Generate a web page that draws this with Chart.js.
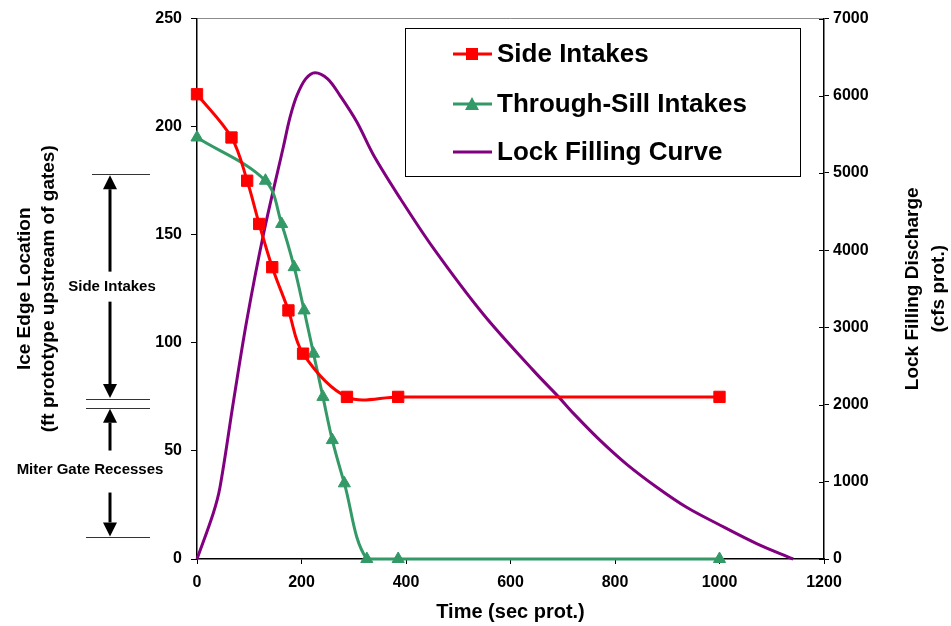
<!DOCTYPE html>
<html>
<head>
<meta charset="utf-8">
<title>Ice Edge Location vs Time</title>
<script src="https://cdn.jsdelivr.net/npm/chart.js@4.4.0/dist/chart.umd.min.js"></script>
<style>
    html, body { margin: 0; padding: 0; background: #fff; }
    canvas { display: block; }
</style>
</head>
<body>
<canvas id="iceChart" width="951" height="626"></canvas>
<script>
// === DATA ===
const sideTime = [0, 66, 96, 119, 144, 175, 203, 287, 385, 1000];
const sideEdge = [215, 195, 175, 155, 135, 115, 95, 75, 75, 75];

const sillTime = [0, 131, 162, 186, 205, 223, 241, 259, 282, 325, 385, 1000];
const sillEdge = [195, 175, 155, 135, 115, 95, 75, 55, 35, 0, 0, 0];

const fillTime = [0, 31, 44, 70, 95, 127, 165, 178, 191, 208, 226, 250, 274, 306, 338, 389, 452, 548, 644, 692, 720, 771, 822, 880, 937, 995, 1071, 1141];
const fillFlow = [0, 590, 930, 2050, 3080, 4200, 5330, 5720, 6000, 6220, 6300, 6220, 6000, 5660, 5230, 4670, 4030, 3170, 2440, 2100, 1890, 1540, 1230, 930, 670, 460, 200, 0];

const seriesNames = ['Side Intakes', 'Through-Sill Intakes', 'Lock Filling Curve'];

// bracket marks on the left, in ft (left axis units)
const bracketEdges = [178, 74, 70, 10];
const bracketLabels = ['Side Intakes', 'Miter Gate Recesses'];

const FONT = '"Liberation Sans", Arial, sans-serif';
const RED = '#FF0000';
const GREEN = '#339966';
const PURPLE = '#800080';

Chart.defaults.font.family = FONT;
Chart.defaults.color = '#000';

function toPoints(xs, ys) {
    return xs.map((x, i) => ({ x: x, y: ys[i] }));
}

// === PLUGINS ===
function drawMarker(ctx, style, x, y, color) {
    ctx.fillStyle = color;
    ctx.beginPath();
    if (style === 'rect') {
        ctx.rect(x - 6, y - 6, 12, 12);
    } else if (style === 'triangle') {
        ctx.moveTo(x, y - 7);
        ctx.lineTo(x + 7, y + 6);
        ctx.lineTo(x - 7, y + 6);
        ctx.closePath();
    }
    ctx.fill();
}

const legendBox = {
    id: 'legendBox',
    afterDatasetsDraw(chart) {
        const ctx = chart.ctx;
        const left = 405, top = 28, right = 800, bottom = 176;
        ctx.save();
        ctx.fillStyle = '#fff';
        ctx.fillRect(left, top, right - left, bottom - top);
        ctx.strokeStyle = '#000';
        ctx.lineWidth = 1;
        ctx.strokeRect(left + 0.5, top + 0.5, right - left, bottom - top);

        const rows = [54, 104, 152];
        chart.data.datasets.forEach((ds, i) => {
            const y = rows[i];
            ctx.strokeStyle = ds.borderColor;
            ctx.lineWidth = 3;
            ctx.beginPath();
            ctx.moveTo(453, y);
            ctx.lineTo(492, y);
            ctx.stroke();
            if (ds.pointStyle && ds.pointRadius > 0) {
                drawMarker(ctx, ds.pointStyle, 472, y, ds.borderColor);
            }
            ctx.fillStyle = '#000';
            ctx.font = 'bold 26px ' + FONT;
            ctx.textAlign = 'left';
            ctx.textBaseline = 'middle';
            ctx.fillText(ds.label, 497, y + 1);
        });
        ctx.restore();
    }
};

function arrow(ctx, x, fromY, tipY) {
    const dir = tipY < fromY ? -1 : 1;
    const head = 14;
    ctx.beginPath();
    ctx.moveTo(x, fromY);
    ctx.lineTo(x, tipY - dir * head);
    ctx.stroke();
    ctx.beginPath();
    ctx.moveTo(x, tipY);
    ctx.lineTo(x + 7, tipY - dir * head);
    ctx.lineTo(x - 7, tipY - dir * head);
    ctx.closePath();
    ctx.fill();
}

const bracketNotes = {
    id: 'bracketNotes',
    afterDraw(chart) {
        const ctx = chart.ctx;
        const y = chart.scales.y;
        const y1 = chart.scales.y1;
        const [top, sideLow, miterHigh, miterLow] = bracketEdges.map(v => y.getPixelForValue(v));
        ctx.save();

        // right axis ticks cross the axis line
        ctx.strokeStyle = '#000';
        ctx.lineWidth = 1;
        y1.ticks.forEach(t => {
            const py = Math.round(y1.getPixelForValue(t.value)) + 0.5;
            ctx.beginPath();
            ctx.moveTo(y1.left - 5, py);
            ctx.lineTo(y1.left, py);
            ctx.stroke();
        });

        ctx.strokeStyle = '#333';
        ctx.lineWidth = 1.2;
        [[92, top], [86, sideLow], [86, miterHigh], [86, miterLow]].forEach(([x0, py]) => {
            ctx.beginPath();
            ctx.moveTo(x0, Math.round(py) + 0.5);
            ctx.lineTo(150, Math.round(py) + 0.5);
            ctx.stroke();
        });

        ctx.strokeStyle = '#000';
        ctx.fillStyle = '#000';
        ctx.lineWidth = 3;
        const ax = 110;
        const sideMid = (top + sideLow) / 2;
        arrow(ctx, ax, sideMid - 15, top + 1);
        arrow(ctx, ax, sideMid + 15, sideLow - 1);
        const miterMid = (miterHigh + miterLow) / 2 - 3;
        arrow(ctx, ax, miterMid - 19, miterHigh + 1);
        arrow(ctx, ax, miterMid + 23, miterLow - 1);

        ctx.font = 'bold 15px ' + FONT;
        ctx.textAlign = 'center';
        ctx.textBaseline = 'middle';
        ctx.fillText(bracketLabels[0], 112, sideMid);
        ctx.fillText(bracketLabels[1], 90, miterMid);

        // right axis title, reading bottom to top
        const area = chart.chartArea;
        const midY = (area.top + area.bottom) / 2;
        ctx.font = 'bold 19px ' + FONT;
        ctx.translate(913, midY);
        ctx.rotate(-Math.PI / 2);
        ctx.fillText('Lock Filling Discharge', 0, 0);
        ctx.fillText('(cfs prot.)', 0, 26);
        ctx.restore();
    }
};

// === CHART ===
const tickFont = { size: 16, weight: 'bold', family: FONT };
const plainNumber = v => String(v);

new Chart(document.getElementById('iceChart'), {
    type: 'line',
    data: {
        datasets: [
            {
                label: seriesNames[0],
                data: toPoints(sideTime, sideEdge),
                yAxisID: 'y',
                borderColor: RED,
                backgroundColor: RED,
                borderWidth: 3,
                tension: 0.35,
                pointStyle: 'rect',
                pointRadius: 8,
                pointBorderWidth: 1,
                pointBackgroundColor: RED,
                pointBorderColor: RED,
                clip: false,
            },
            {
                label: seriesNames[1],
                data: toPoints(sillTime, sillEdge),
                yAxisID: 'y',
                borderColor: GREEN,
                backgroundColor: GREEN,
                borderWidth: 3,
                tension: 0.35,
                pointStyle: 'triangle',
                pointRadius: 7,
                pointBorderWidth: 1,
                pointBackgroundColor: GREEN,
                pointBorderColor: GREEN,
                clip: false,
            },
            {
                label: seriesNames[2],
                data: toPoints(fillTime, fillFlow),
                yAxisID: 'y1',
                borderColor: PURPLE,
                backgroundColor: PURPLE,
                borderWidth: 3,
                tension: 0.35,
                pointRadius: 0,
                clip: false,
            }
        ]
    },
    options: {
        responsive: false,
        animation: false,
        layout: { padding: { top: 16, left: 0, right: 0, bottom: 0 } },
        plugins: {
            legend: { display: false },
            tooltip: { enabled: false }
        },
        scales: {
            x: {
                type: 'linear',
                min: 0,
                max: 1200,
                ticks: { stepSize: 200, font: tickFont, padding: 9, color: '#000', callback: plainNumber },
                grid: { drawOnChartArea: false, tickLength: 5, tickColor: '#000' },
                border: { color: '#000', width: 1.5 },
                title: {
                    display: true,
                    text: 'Time (sec prot.)',
                    font: { size: 20, weight: 'bold', family: FONT },
                    color: '#000',
                    padding: { top: 0, bottom: 2 }
                },
                afterFit(scale) { scale.height = 67; }
            },
            y: {
                position: 'left',
                min: 0,
                max: 250,
                ticks: { stepSize: 50, font: tickFont, padding: 9, color: '#000', callback: plainNumber },
                grid: {
                    color: ctx => (ctx.tick && ctx.tick.value === 250 ? '#8c8c8c' : 'rgba(0,0,0,0)'),
                    tickColor: '#000',
                    tickLength: 6,
                    lineWidth: 1
                },
                border: { color: '#000', width: 1.5 },
                title: {
                    display: true,
                    text: ['Ice Edge Location', '(ft prototype upstream of gates)'],
                    font: { size: 19, weight: 'bold', family: FONT, lineHeight: 1.3 },
                    color: '#000',
                    padding: { top: 12, bottom: 0 }
                },
                afterFit(scale) { scale.width = 197; }
            },
            y1: {
                position: 'right',
                min: 0,
                max: 7000,
                ticks: { stepSize: 1000, font: tickFont, padding: 4, color: '#000', callback: plainNumber },
                grid: { drawOnChartArea: false, tickLength: 5, tickColor: '#000' },
                border: { color: '#000', width: 1.5 },
                afterFit(scale) { scale.width = 127; }
            }
        }
    },
    plugins: [legendBox, bracketNotes]
});
</script>
</body>
</html>
